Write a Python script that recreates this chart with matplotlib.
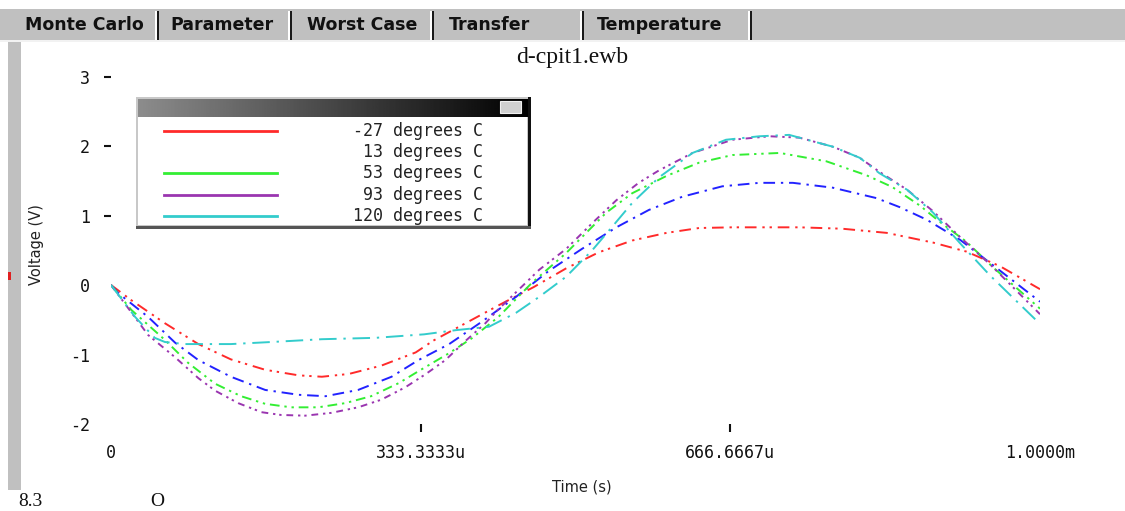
import numpy as np
import matplotlib
matplotlib.use("Agg")
import matplotlib.pyplot as plt
from matplotlib.patches import Rectangle

# temperature sweep, time in microseconds, voltage in V
t_m27 = [0, 22, 58, 94, 129, 166, 202, 227, 256, 291, 328, 347, 383, 419, 455, 490,
         525, 561, 598, 633, 669, 741, 787, 835, 885, 921, 957, 1000]
v_m27 = [0, -0.22, -0.55, -0.85, -1.07, -1.22, -1.30, -1.32, -1.28, -1.16, -0.97, -0.80,
         -0.54, -0.28, -0.03, 0.24, 0.47, 0.64, 0.75, 0.82, 0.83, 0.83, 0.81, 0.75, 0.61,
         0.48, 0.27, -0.06]

t_13 = [0, 8, 40, 69, 94, 129, 166, 202, 231, 266, 302, 331, 364, 399, 436, 471, 507,
        544, 579, 615, 658, 698, 734, 777, 824, 849, 878, 914, 946, 1000]
v_13 = [0, -0.12, -0.46, -0.83, -1.08, -1.32, -1.51, -1.58, -1.60, -1.51, -1.32, -1.08,
        -0.85, -0.53, -0.17, 0.20, 0.52, 0.83, 1.08, 1.27, 1.42, 1.47, 1.47, 1.40, 1.25,
        1.12, 0.94, 0.65, 0.32, -0.24]

t_53 = [0, 22, 58, 83, 112, 140, 166, 194, 223, 252, 280, 310, 331, 364, 388, 417, 453,
        490, 533, 561, 598, 633, 669, 720, 770, 813, 841, 871, 892, 921, 949, 1000]
v_53 = [0, -0.36, -0.79, -1.12, -1.42, -1.60, -1.71, -1.76, -1.76, -1.70, -1.60, -1.41,
        -1.24, -0.98, -0.77, -0.46, 0.03, 0.46, 1.04, 1.32, 1.57, 1.76, 1.87, 1.90, 1.78,
        1.58, 1.41, 1.14, 0.91, 0.62, 0.26, -0.34]

t_93 = [0, 40, 69, 94, 112, 137, 162, 183, 209, 237, 266, 291, 317, 339, 360, 382, 403,
        417, 461, 490, 518, 544, 568, 590, 626, 669, 709, 741, 777, 806, 827, 857, 885,
        914, 946, 1000]
v_93 = [0, -0.72, -1.04, -1.34, -1.52, -1.70, -1.83, -1.87, -1.88, -1.84, -1.76, -1.65,
        -1.47, -1.28, -1.08, -0.80, -0.55, -0.35, 0.22, 0.52, 0.89, 1.22, 1.47, 1.65,
        1.90, 2.09, 2.14, 2.12, 1.99, 1.83, 1.63, 1.37, 1.06, 0.69, 0.30, -0.42]

t_120 = [0, 26, 47, 58, 80, 129, 173, 227, 285, 337, 371, 407, 436, 461, 490, 518, 539,
         561, 590, 626, 662, 698, 730, 741, 777, 806, 827, 857, 885, 914, 946, 1000]
v_120 = [0, -0.46, -0.76, -0.82, -0.85, -0.85, -0.82, -0.78, -0.76, -0.71, -0.65, -0.60,
         -0.40, -0.17, 0.12, 0.50, 0.83, 1.18, 1.55, 1.90, 2.09, 2.14, 2.16, 2.12, 1.99,
         1.83, 1.61, 1.37, 1.04, 0.60, 0.14, -0.56]

series_t = [t_m27, t_13, t_53, t_93, t_120]
series_v = [v_m27, v_13, v_53, v_93, v_120]
labels = ["-27 degrees C", "13 degrees C", "53 degrees C", "93 degrees C", "120 degrees C"]
colors = ["#ff2a2a", "#2222ff", "#33ee33", "#9a35b0", "#33cccc"]
dashes = [(6, 3, 1.2, 2.5, 1.2, 3), (6, 3, 1.2, 3), (5, 2.5, 1.2, 2.5, 1.2, 2.5),
          (3.5, 2.5, 1.2, 2, 1.2, 2.5), (9, 3.5, 1.2, 3.5)]
legend_line = [True, False, True, True, True]

x_ticks = [0, 333.3333, 666.6667, 1000]
x_tick_labels = ["0", "333.3333u", "666.6667u", "1.0000m"]
y_ticks = [3, 2, 1, 0, -1, -2]
y_tick_labels = ["3", "2", "1", "0", "-1", "-2"]
tabs = ["Monte Carlo", "Parameter", "Worst Case", "Transfer", "Temperature"]

W, H = 1125, 511
fig = plt.figure(figsize=(W / 100, H / 100), dpi=100)
fig.patch.set_facecolor("white")


def px(x):
    return x / W


def py(y):
    return 1 - y / H


def frect(x0, y0, x1, y1, color):
    fig.patches.append(Rectangle((px(x0), py(y1)), px(x1) - px(x0), py(y0) - py(y1),
                                 transform=fig.transFigure, color=color, lw=0, zorder=0))


# window chrome: tab bar, left strip
frect(0, 9, W, 40, "#c0c0c0")
frect(0, 40, W, 42, "#f2f2f2")
frect(8, 42, 21, 490, "#c0c0c0")
frect(8, 272, 11, 280, "#e02020")

tab_centers = [84, 222, 362, 490, 660]
seps = [157, 290, 432, 582, 750]
for name, cx in zip(tabs, tab_centers):
    fig.text(px(cx), py(25), name, ha="center", va="center", size=12.5,
             weight="bold", family="DejaVu Sans", color="#111111")
for sx in seps:
    frect(sx - 2, 11, sx, 40, "#ffffff")
    frect(sx, 11, sx + 2, 40, "#1a1a1a")

fig.text(px(572), py(58), "d-cpit1.ewb", ha="center", va="center",
         family="Liberation Serif", size=17, color="#111111")
fig.text(px(36), py(245), "Voltage (V)", rotation=90, ha="center", va="center",
         size=10.5, color="#222222")
fig.text(px(582), py(487), "Time (s)", ha="center", va="center", size=10.5,
         color="#222222")

# page text underneath the screenshot
fig.text(px(18), py(510), "8.3", ha="left", va="bottom", family="Liberation Serif",
         size=14, color="#111111")
fig.text(px(150), py(510), "O", ha="left", va="bottom", family="Liberation Serif",
         size=14, color="#111111")

# main plot
ax = fig.add_axes([px(111), py(432), px(1040) - px(111), py(60) - py(432)])
ax.set_facecolor("none")
for t, v, c, d in zip(series_t, series_v, colors, dashes):
    ax.plot(t, v, color=c, lw=1.4, linestyle=(0, d))
ax.set_xlim(0, 1000)
ax.set_ylim((285 - 432) / 69.5, (285 - 60) / 69.5)
for s in ax.spines.values():
    s.set_visible(False)

mono = dict(family="DejaVu Sans Mono", size=12)
ax.set_xticks(x_ticks)
ax.set_xticklabels(x_tick_labels, **mono)
ax.set_yticks(y_ticks)
ax.set_yticklabels(y_tick_labels, **mono)
ax.tick_params(axis="x", direction="in", length=6, width=1.5, pad=9, colors="#111111")
ax.tick_params(axis="y", direction="out", length=5, width=1.5, pad=10, colors="#111111")
for tk, val in zip(ax.xaxis.get_major_ticks(), x_ticks):
    if val in (0, 1000):
        tk.tick1line.set_visible(False)
for tk, val in zip(ax.yaxis.get_major_ticks(), y_ticks):
    if val <= 0:
        tk.tick1line.set_visible(False)

# legend window drawn in pixel units
L, T, R, B = 136, 97, 531, 229
lax = fig.add_axes([px(L), py(B), px(R) - px(L), py(T) - py(B)])
lax.axis("off")
lax.add_patch(Rectangle((L, T), R - L, B - T, facecolor="#c8c8c8", lw=0))
lax.add_patch(Rectangle((L + 2, T + 20), R - L - 6, B - T - 24, facecolor="white", lw=0))
lax.add_patch(Rectangle((R - 3, T), 3, B - T, facecolor="#111111", lw=0))
lax.add_patch(Rectangle((L, B - 3), R - L, 3, facecolor="#555555", lw=0))
grad = np.linspace(0.55, 0.0, 256).reshape(1, -1)
lax.imshow(grad, cmap="gray", vmin=0, vmax=1, aspect="auto",
           extent=(L + 2, R - 3, T + 20, T + 2), zorder=2)
lax.add_patch(Rectangle((500, 101), 21, 12, facecolor="#d0d0d0", edgecolor="#f0f0f0",
                        lw=0.8, zorder=3))
lax.set_xlim(L, R)
lax.set_ylim(B, T)

rows = [131, 152, 173, 195, 216]
for lab, c, show, ry in zip(labels, colors, legend_line, rows):
    if show:
        lax.plot([164, 277], [ry, ry], color=c, lw=2, zorder=4)
    lax.text(483, ry, lab, ha="right", va="center", color="#222222", zorder=4, **mono)

fig.savefig("out.png", dpi=100)
